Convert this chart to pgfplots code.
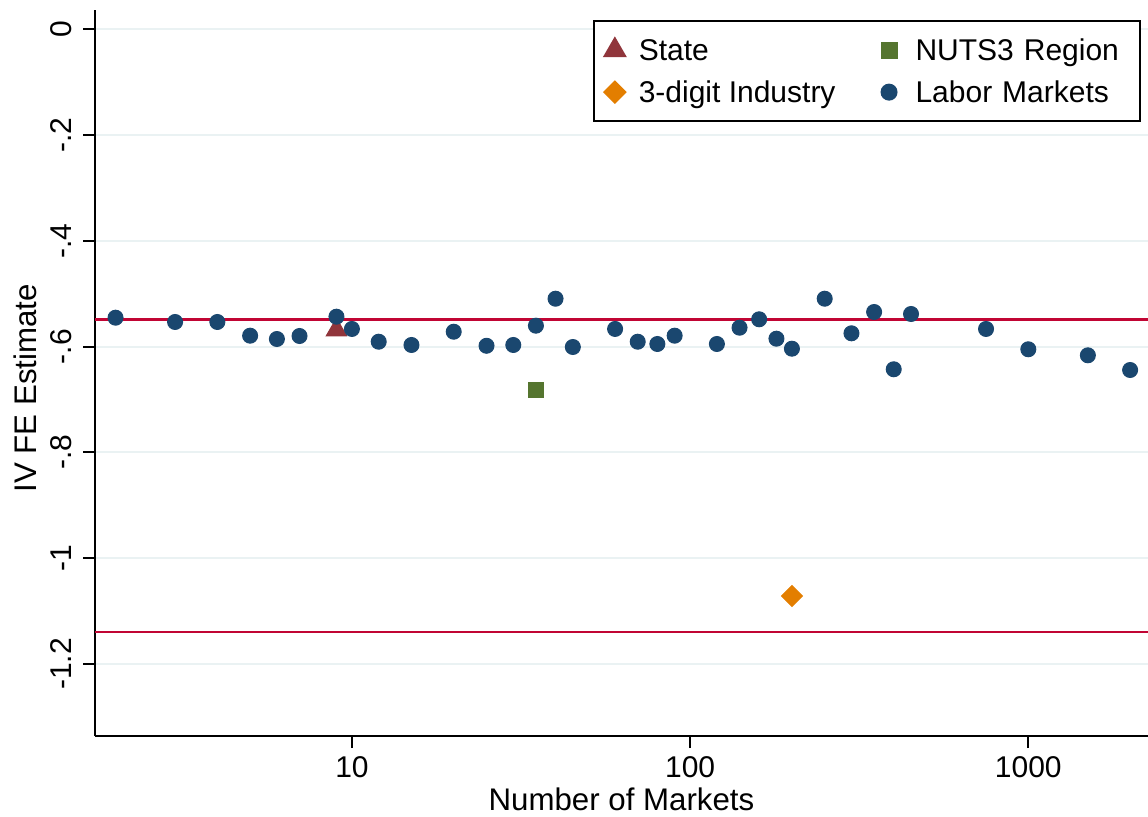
\documentclass[border=0pt]{standalone}
\usepackage{pgfplots}
\pgfplotsset{compat=1.18}
\usepackage{pgfplotstable}
\usepackage{fontspec}
\setmainfont{Liberation Sans}

\definecolor{navy}{HTML}{1A476F}
\definecolor{maroon}{HTML}{90353B}
\definecolor{forest}{HTML}{55752F}
\definecolor{orng}{HTML}{E37E00}
\definecolor{cranberry}{HTML}{C10534}
\definecolor{gridc}{HTML}{EAF2F3}

% markets, IV FE estimate
\pgfplotstableread{
n     est
2     -0.5453
3     -0.5534
4     -0.5534
5     -0.5793
6     -0.5856
7     -0.5799
9     -0.5434
10    -0.5666
12    -0.5907
15    -0.5969
20    -0.5718
25    -0.5984
30    -0.5969
35    -0.5604
40    -0.5094
45    -0.6007
60    -0.5666
70    -0.5907
80    -0.5950
90    -0.5793
120   -0.5950
140   -0.5642
160   -0.5483
180   -0.5850
200   -0.6039
250   -0.5094
300   -0.5748
350   -0.5345
400   -0.6428
450   -0.5383
750   -0.5666
1000  -0.6050
1500  -0.6164
2000  -0.6442
}\labormarkets

\pgfplotstableread{
n   est
9   -0.5685
}\state

\pgfplotstableread{
n   est
35  -0.6825
}\nuts

\pgfplotstableread{
n   est
200 -1.0715
}\industry

\begin{document}
\begin{tikzpicture}
\begin{axis}[
  name=ax,
  scale only axis,
  width=421.2bp, height=290.4bp,
  xmode=log,
  xmin=1.739, xmax=2259,
  ymin=-1.3362, ymax=0.0365,
  axis x line*=bottom,
  axis y line*=left,
  axis line style={black, line width=0.8bp},
  xtick={10,100,1000},
  xticklabels={10,100,1000},
  xminorticks=false,
  ytick={0,-0.2,-0.4,-0.6,-0.8,-1,-1.2},
  yticklabels={0,-.2,-.4,-.6,-.8,-1,-1.2},
  tick align=outside,
  major tick length=4.8bp,
  tick style={black, line width=0.8bp},
  ymajorgrids,
  major grid style={gridc, line width=0.8bp},
  /pgf/number format/assume math mode=true,
  tick label style={font=\fontsize{12bp}{14bp}\selectfont, inner sep=0pt},
  yticklabel style={xshift=-4.4bp, rotate=90, anchor=south},
  xticklabel style={anchor=base, yshift=-11.6bp},
  xlabel={Number of Markets},
  ylabel={IV FE Estimate},
  label style={font=\fontsize{12.5bp}{15bp}\selectfont, inner sep=0pt},
  xlabel style={at={(axis description cs:0.5,0)}, anchor=base, yshift=-29.6bp},
  ylabel style={at={(axis description cs:-0.0551,0.479)}, anchor=south},
  legend columns=2,
  legend cell align=left,
  legend image code/.code={\draw[#1] plot coordinates {(0bp,0bp)};},
  legend style={
    at={(0.9934,0.9862)}, anchor=north east,
    draw=black, line width=0.8bp,
    inner xsep=4.2bp, inner ysep=5.4bp,
    row sep=4.3bp,
    font=\fontsize{12bp}{14bp}\selectfont,
    nodes={inner sep=0pt, text height=10.5bp, text depth=2bp},
    /tikz/column 1/.style={column sep=5.4bp},
    /tikz/column 2/.style={column sep=18.4bp},
    /tikz/column 3/.style={column sep=7.6bp},
    /tikz/column 4/.style={nodes={text width=85.6bp}},
  },
]
% reference lines
\addplot[cranberry, line width=1.1bp, forget plot] coordinates {(1.739,-0.5483) (2259,-0.5483)};
\addplot[cranberry, line width=1.1bp, forget plot] coordinates {(1.739,-1.1395) (2259,-1.1395)};

\addplot[only marks, mark=triangle*, mark size=4.7bp, color=maroon,
  mark options={fill=maroon}] table[x=n, y=est] {\state};
\addlegendentry{State}
\addplot[only marks, mark=square*, mark size=3.0bp, color=forest,
  mark options={fill=forest}] table[x=n, y=est] {\nuts};
\addlegendentry{NUTS3 Region}
\addplot[only marks, mark=square*, mark size=2.95bp, color=orng,
  mark options={fill=orng, rotate=45}] table[x=n, y=est] {\industry};
\addlegendentry{3-digit Industry}
\addplot[only marks, mark=*, mark size=3.0bp, color=navy,
  mark options={fill=navy}] table[x=n, y=est] {\labormarkets};
\addlegendentry{Labor Markets}
\end{axis}
\pgfresetboundingbox
\path ([xshift=-38bp, yshift=-32.4bp]ax.south west) rectangle ([yshift=4bp]ax.north east);
\end{tikzpicture}
\end{document}
